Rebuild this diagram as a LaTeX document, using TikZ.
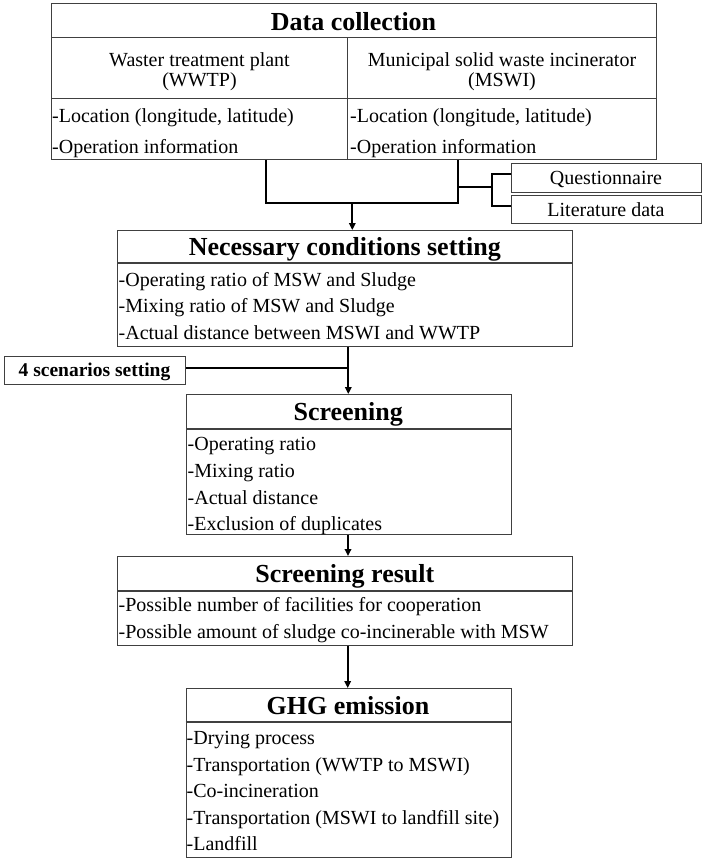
\documentclass[tikz,border=0pt]{standalone}
\usepackage{fontspec}
\setmainfont{Liberation Serif}
\usetikzlibrary{arrows.meta,calc}
\begin{document}
\begin{tikzpicture}[x=1pt,y=-1pt,
  box/.style={draw=black!75,line width=1.1pt,inner sep=0pt,anchor=north west,fill=none},
  sep/.style={draw=black!75,line width=1.1pt},
  ttl/.style={font=\fontsize{26}{30}\selectfont\bfseries,anchor=base,inner sep=0pt},
  body/.style={font=\fontsize{20}{24}\selectfont,anchor=base west,inner sep=0pt},
  bodyc/.style={font=\fontsize{20}{24}\selectfont,anchor=base,inner sep=0pt},
  conn/.style={draw=black,line width=1.7pt},
  arr/.style={conn,-{Triangle[length=7pt,width=6.5pt]}}]
\useasboundingbox (0,0) rectangle (702,859);
% boxes
\node[box,minimum width=605pt,minimum height=156pt] (dc) at (51,3.3) {};
\node[box,minimum width=190pt,minimum height=28.4pt] (qn) at (511,163.3) {};
\node[box,minimum width=190pt,minimum height=27.4pt] (lt) at (511,195.3) {};
\node[box,minimum width=455pt,minimum height=115.7pt] (nc) at (117.3,230) {};
\node[box,minimum width=181pt,minimum height=28pt] (ss) at (4,356) {};
\node[box,minimum width=324.5pt,minimum height=140pt] (sc) at (186,394) {};
\node[box,minimum width=455pt,minimum height=89pt] (sr) at (117.3,556) {};
\node[box,minimum width=325pt,minimum height=169pt] (gh) at (185.5,688) {};
% inner separators
\draw[sep] (dc.west |- 0,37.3) -- (dc.east |- 0,37.3);
\draw[sep] (dc.west |- 0,98.3) -- (dc.east |- 0,98.3);
\draw[sep] (347.8,37.3) -- (dc.south -| 347.8,0);
\draw[sep] (nc.west |- 0,263) -- (nc.east |- 0,263);
\draw[sep] (sc.west |- 0,429) -- (sc.east |- 0,429);
\draw[sep] (sr.west |- 0,591) -- (sr.east |- 0,591);
\draw[sep] (gh.west |- 0,722) -- (gh.east |- 0,722);
% Data collection texts
\node[ttl] (t1) at (353.5,30.5) {Data collection};
\node[bodyc] (h1a) at (199.5,66.7) {Waster treatment plant};
\node[bodyc] (h1b) at (199.5,86.7) {(WWTP)};
\node[bodyc] (h2a) at (502,66.7) {Municipal solid waste incinerator};
\node[bodyc] (h2b) at (502,86.7) {(MSWI)};
\node[body] (l1a) at (52,122.7) {-Location (longitude, latitude)};
\node[body] (l1b) at (52,153.3) {-Operation information};
\node[body] (l2a) at (350,122.7) {-Location (longitude, latitude)};
\node[body] (l2b) at (350,153.3) {-Operation information};
\node[bodyc] (qt) at (606,184.5) {Questionnaire};
\node[bodyc] (ltt) at (606,216) {Literature data};
% Necessary
\node[ttl] (t2) at (344.8,255.5) {Necessary conditions setting};
\node[body] (n1) at (118.5,286.7) {-Operating ratio of MSW and Sludge};
\node[body] (n2) at (118.5,312.7) {-Mixing ratio of MSW and Sludge};
\node[body] (n3) at (118.5,339) {-Actual distance between MSWI and WWTP};
% scenarios
\node[font=\fontsize{19.5}{23}\selectfont\bfseries,anchor=base,inner sep=0pt] (sst) at (94.5,376.5) {4 scenarios setting};
% Screening
\node[ttl] (t3) at (348.2,420) {Screening};
\node[body] (s1) at (187.5,450.7) {-Operating ratio};
\node[body] (s2) at (187.5,477.3) {-Mixing ratio};
\node[body] (s3) at (187.5,504) {-Actual distance};
\node[body] (s4) at (187.5,530) {-Exclusion of duplicates};
% Screening result
\node[ttl] (t4) at (344.8,582) {Screening result};
\node[body] (r1) at (118.5,611.7) {-Possible number of facilities for cooperation};
\node[body] (r2) at (118.5,638.3) {-Possible amount of sludge co-incinerable with MSW};
% GHG
\node[ttl] (t5) at (348,714) {GHG emission};
\node[body] (g1) at (186.5,744.3) {-Drying process};
\node[body] (g2) at (186.5,771) {-Transportation (WWTP to MSWI)};
\node[body] (g3) at (186.5,797.7) {-Co-incineration};
\node[body] (g4) at (186.5,824.3) {-Transportation (MSWI to landfill site)};
\node[body] (g5) at (186.5,850.7) {-Landfill};
% connectors
\coordinate (jL) at (266,202.7);
\coordinate (jR) at (458.3,202.7);
\coordinate (jA) at (352.3,202.7);
\coordinate (bm) at (458.3,186.7);
\coordinate (bx) at (491.7,186.7);
\coordinate (bt) at (491.7,174);
\coordinate (bb) at (491.7,205.7);
\coordinate (j2) at (348.3,367.7);
\draw[conn] (dc.south -| jL) -- (jL) -- (jR) -- (dc.south -| jR);
\draw[arr] (jA) -- (nc.north -| jA);
\draw[conn] (bm) -- (bx);
\draw[conn] (bt -| qn.west) -- (bt) -- (bb) -- (bb -| lt.west);
\draw[arr] (nc.south -| j2) -- (sc.north -| j2);
\draw[conn] (ss.east |- j2) -- (j2);
\draw[arr] (sc.south -| 348,0) -- (sr.north -| 348,0);
\draw[arr] (sr.south -| 347.7,0) -- (gh.north -| 347.7,0);
\end{tikzpicture}
\end{document}
